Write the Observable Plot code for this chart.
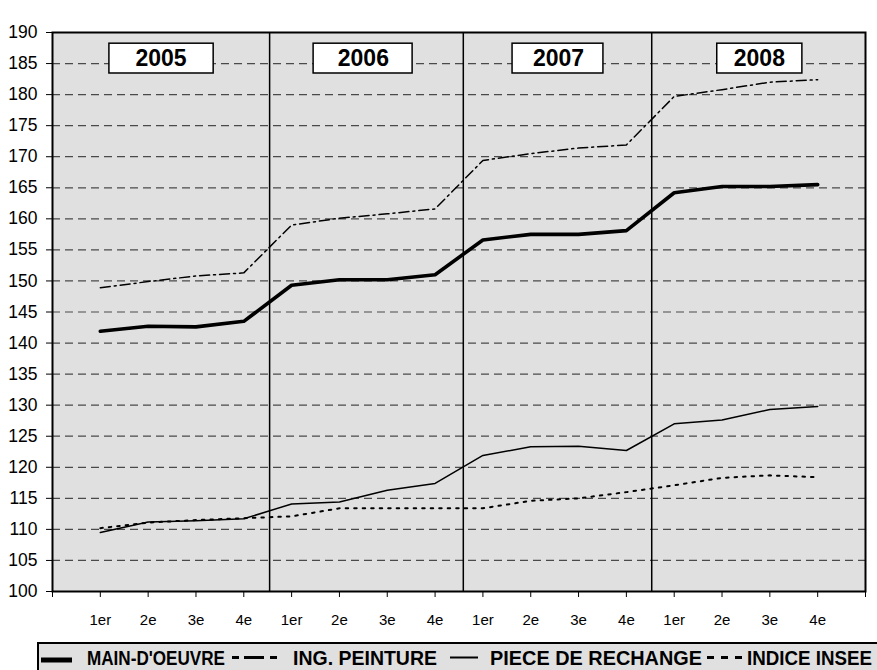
<!DOCTYPE html>
<html>
<head>
<meta charset="utf-8">
<script src="https://cdn.jsdelivr.net/npm/d3@7"></script>
<script src="https://cdn.jsdelivr.net/npm/@observablehq/plot@0.6"></script>
<style>
  html, body { margin: 0; padding: 0; background: #fff; overflow: hidden; }
  #chart svg { display: block; }
  #legend { display: block; }
</style>
</head>
<body>
<div id="chart"></div>
<svg id="legend" width="877" height="35"></svg>
<script>
// ---- data ----
const years = ["2005", "2006", "2007", "2008"];
const quarters = ["1er", "2e", "3e", "4e"];
const seriesNames = ["MAIN-D'OEUVRE", "ING. PEINTURE", "PIECE DE RECHANGE", "INDICE INSEE"];
const mainOeuvre   = [141.9, 142.7, 142.6, 143.5, 149.3, 150.2, 150.2, 151.0, 156.6, 157.5, 157.5, 158.1, 164.2, 165.2, 165.2, 165.5];
const ingPeinture  = [148.9, 149.9, 150.8, 151.3, 159.0, 160.1, 160.8, 161.6, 169.4, 170.5, 171.4, 171.9, 179.7, 180.8, 182.0, 182.4];
const pieceRechange= [109.5, 111.2, 111.4, 111.7, 114.1, 114.4, 116.3, 117.4, 121.9, 123.3, 123.4, 122.7, 127.0, 127.6, 129.3, 129.8];
const indiceInsee  = [110.2, 111.1, 111.5, 111.8, 112.1, 113.4, 113.4, 113.4, 113.4, 114.6, 115.0, 116.0, 117.1, 118.3, 118.7, 118.4];
const yTicks = d3.range(100, 191, 5);

// ---- layout (not data) ----
const separatorX = [4.54, 8.59, 12.53];
const yearBoxX1 = [1.19, 5.46, 9.62, 13.90];
const yearBoxX2 = [3.37, 7.53, 11.52, 15.68];
const yearTextX = [2.27, 6.50, 10.58, 14.78];

const tickLabels = years.flatMap(() => quarters);
const allSeries = [mainOeuvre, ingPeinture, pieceRechange, indiceInsee];
const styles = [
  {strokeWidth: 3.6},
  {strokeWidth: 1.5, strokeDasharray: "10,4,2,4"},
  {strokeWidth: 1.5},
  {strokeWidth: 2, strokeDasharray: "2.5,6"}
];
const table = allSeries.map((vals, s) => vals.map((v, k) => ({series: seriesNames[s], i: k + 1, v})));
const boxes = years.map((y, k) => ({year: y, x1: yearBoxX1[k], x2: yearBoxX2[k], cx: yearTextX[k]}));

const FONT = "'Liberation Sans', Arial, sans-serif";

const chart = Plot.plot({
  width: 877,
  height: 635,
  marginLeft: 52,
  marginRight: 12,
  marginTop: 32,
  marginBottom: 44,
  style: {fontFamily: FONT, fontSize: "14px", color: "#000", background: "#fff", overflow: "visible"},
  x: {type: "linear", domain: [0, 17]},
  y: {domain: [100, 190]},
  marks: [
    Plot.frame({fill: "#e0e0e0"}),
    Plot.ruleY(yTicks.filter(t => t > 100 && t < 190), {stroke: "#4a4a4a", strokeWidth: 1.2, strokeDasharray: "8,5"}),
    ...table.map((d, s) => Plot.line(d, {x: "i", y: "v", stroke: "black", ...styles[s]})),
    Plot.ruleX(separatorX, {y1: 100, y2: 190, stroke: "black", strokeWidth: 1.5}),
    Plot.rect(boxes, {x1: "x1", x2: "x2", y1: 183.4, y2: 188.2, fill: "white", stroke: "black", strokeWidth: 1.5}),
    Plot.text(boxes, {x: "cx", y: 185.8, text: "year", fontSize: 23, fontWeight: "bold", fill: "black"}),
    Plot.axisY({ticks: yTicks, tickSize: 6, tickPadding: 9, fontSize: 17.5, label: null, stroke: "#000", strokeWidth: 1}),
    Plot.axisX({ticks: d3.range(0, 18), tickSize: 6, tickPadding: 17, fontSize: 15, label: null,
      tickFormat: i => (i >= 1 && i <= 16 ? tickLabels[i - 1] : "")}),
    Plot.frame({stroke: "black", strokeWidth: 2})
  ]
});
document.getElementById("chart").appendChild(chart);
// make sure tick-label sizes are applied
d3.select(chart).selectAll('g[aria-label="x-axis tick label"]').attr("font-size", 15)
  .selectAll("text").style("font-size", "15px");
d3.select(chart).selectAll('g[aria-label="y-axis tick label"]').attr("font-size", 17.5)
  .selectAll("text").style("font-size", "17.5px");

// ---- legend ----
const lg = d3.select("#legend");
lg.append("rect").attr("x", 38).attr("y", 8).attr("width", 900).attr("height", 40)
  .attr("fill", "#e0e0e0").attr("stroke", "black").attr("stroke-width", 2);
const swatches = [
  {x1: 41, x2: 72, y: 25, w: 5, dash: null},
  {x1: 232, x2: 278, y: 22.5, w: 3, dash: "7,5,20,6,7,100"},
  {x1: 450, x2: 478, y: 22.5, w: 2, dash: null},
  {x1: 707, x2: 742, y: 22.5, w: 3, dash: "7,7,7,7,7,100"}
];
const labelPos = [{x: 87, w: 138}, {x: 293, w: 144}, {x: 490, w: 212}, {x: 747, w: 125}];
seriesNames.forEach((name, k) => {
  const s = swatches[k];
  lg.append("line").attr("x1", s.x1).attr("x2", s.x2).attr("y1", s.y).attr("y2", s.y)
    .attr("stroke", "black").attr("stroke-width", s.w).attr("stroke-dasharray", s.dash);
  lg.append("text").attr("x", labelPos[k].x).attr("y", 30)
    .attr("textLength", labelPos[k].w).attr("lengthAdjust", "spacingAndGlyphs")
    .attr("font-family", FONT).attr("font-weight", "bold").attr("font-size", 19.5)
    .attr("fill", "black").text(name);
});
</script>
</body>
</html>
